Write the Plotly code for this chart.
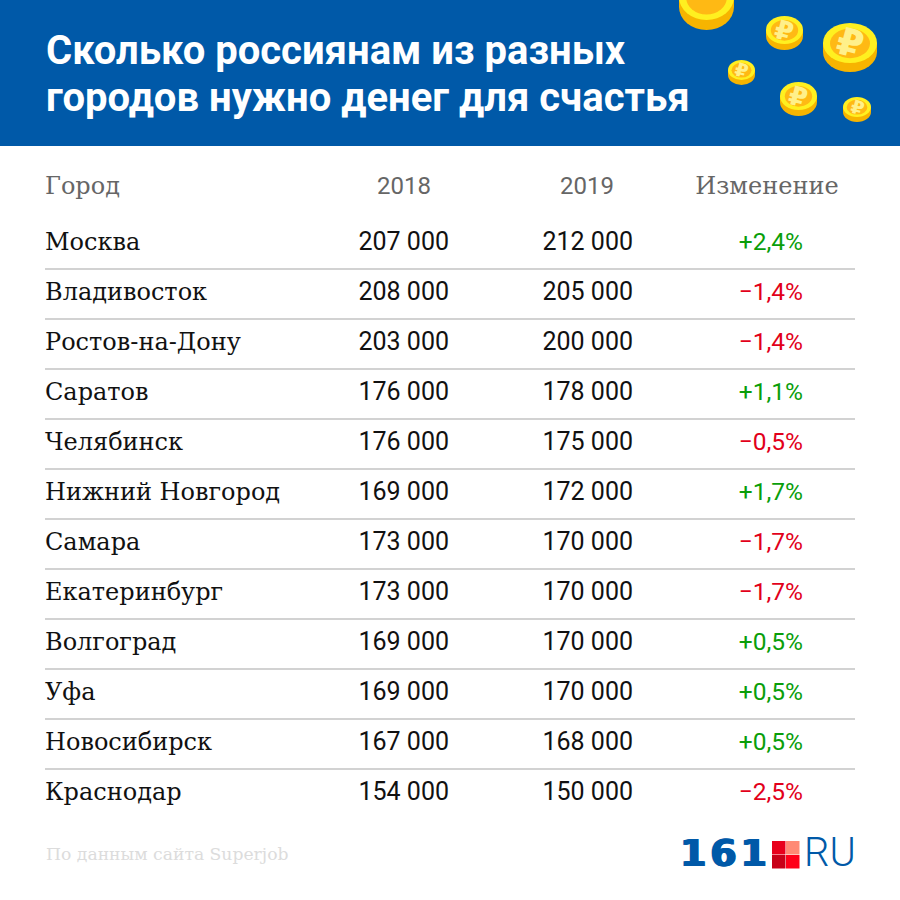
import plotly.graph_objects as go

title_lines = ["Сколько россиянам из разных", "городов нужно денег для счастья"]
headers = ["Город", "2018", "2019", "Изменение"]
cities = ["Москва", "Владивосток", "Ростов-на-Дону", "Саратов", "Челябинск", "Нижний Новгород",
          "Самара", "Екатеринбург", "Волгоград", "Уфа", "Новосибирск", "Краснодар"]
values_2018 = ["207 000", "208 000", "203 000", "176 000", "176 000", "169 000",
               "173 000", "173 000", "169 000", "169 000", "167 000", "154 000"]
values_2019 = ["212 000", "205 000", "200 000", "178 000", "175 000", "172 000",
               "170 000", "170 000", "170 000", "170 000", "168 000", "150 000"]
changes = ["+2,4%", "−1,4%", "−1,4%", "+1,1%", "−0,5%", "+1,7%",
           "−1,7%", "−1,7%", "+0,5%", "+0,5%", "+0,5%", "−2,5%"]
source = "По данным сайта Superjob"

BLUE = "#0059a8"
GREEN = "#0a9e0a"
RED = "#e2001a"
SLAB = "DejaVu Serif"
NUM = "Roboto"

row_y = [244.2 + 50 * i for i in range(len(cities))]
change_colors = [GREEN if c.startswith("+") else RED for c in changes]

fig = go.Figure()


def add_col(x, y, text, pos, size, color, family=NUM, weight=None, shadow=None):
    fig.add_trace(go.Scatter(
        x=x, y=y, text=text, mode="text", textposition=pos, cliponaxis=False,
        textfont=dict(size=size, color=color, family=family, weight=weight, shadow=shadow),
        hoverinfo="skip",
    ))


n = len(cities)
add_col([45] * n, row_y, cities, "middle right", 24, "#111111", SLAB)
add_col([449] * n, row_y, values_2018, "middle left", 25, "#111111")
add_col([633] * n, row_y, values_2019, "middle left", 25, "#111111")
add_col([803] * n, row_y, changes, "middle left", 24.5, change_colors)

# заголовки колонок
add_col([45], [187.5], headers[:1], "middle right", 24, "#666666", SLAB)
add_col([404, 587], [187.5, 187.5], headers[1:3], "middle center", 24, "#666666")
add_col([767], [187.5], headers[3:], "middle center", 24, "#666666", SLAB)

add_col([46, 46], [53.5, 100.5], title_lines, "middle right", 40, "white", NUM, 700)
add_col([46], [856], [source], "middle right", 17.2, "#dcdcdc", SLAB)

# логотип
add_col([680], [856], ["1\u200a6\u200a1"], "middle right", 38, BLUE, "DejaVu Sans", 700,
        "1px 0 0 #0059a8, -1px 0 0 #0059a8")
add_col([804], [856], ["RU"], "middle right", 40, BLUE, NUM, 300)

shapes = [dict(type="rect", x0=0, x1=900, y0=0, y1=146, fillcolor=BLUE, line_width=0, layer="below")]

# линии между строками
for y in row_y[:-1]:
    shapes.append(dict(type="line", x0=45, x1=855, y0=y + 24.8, y1=y + 24.8,
                       line=dict(color="#d2d2d2", width=2), layer="below"))

logo_squares = [(772, 841, "#e8001c"), (786, 841, "#ff8a75"), (772, 855, "#c80018"), (786, 855, "#ff0019")]
for x, y, col in logo_squares:
    shapes.append(dict(type="rect", x0=x, x1=x + 13.5, y0=y, y1=y + 13.5, fillcolor=col, line_width=0))

# монеты: x0, x1, верх лицевой стороны, низ лицевой стороны, низ монеты
coins = [(679, 734, -26, 20, 30), (766, 803, 16, 44, 50), (823, 877, 23, 63, 72),
         (728, 755, 60, 80, 85), (780, 817, 82, 110, 116), (843, 871, 97, 117, 122)]
annotations = []
for x0, x1, top, face, bottom in coins:
    w = x1 - x0
    h = face - top
    shapes.append(dict(type="rect", x0=x0, x1=x1, y0=top + h / 2, y1=bottom - h / 2,
                       fillcolor="#f7b400", line_width=0))
    shapes.append(dict(type="circle", x0=x0, x1=x1, y0=bottom - h, y1=bottom,
                       fillcolor="#f7b400", line_width=0))
    shapes.append(dict(type="circle", x0=x0, x1=x1, y0=top, y1=face,
                       fillcolor="#fff020", line_width=0))
    shapes.append(dict(type="circle", x0=x0 + w * 0.13, x1=x1 - w * 0.13, y0=top + h * 0.14, y1=face - h * 0.12,
                       fillcolor="#ffb914", line_width=0))
    annotations.append(dict(x=(x0 + x1) / 2, y=(top + face) / 2, text="₽", showarrow=False,
                            textangle=15, font=dict(size=h * 0.95, color="#fff08a", family="DejaVu Sans", weight=700)))

fig.update_layout(
    width=900, height=900,
    margin=dict(l=0, r=0, t=0, b=0),
    paper_bgcolor="white", plot_bgcolor="white",
    showlegend=False,
    xaxis=dict(range=[0, 900], visible=False, fixedrange=True),
    yaxis=dict(range=[900, 0], visible=False, fixedrange=True),
    shapes=shapes,
    annotations=annotations,
)

# убираем отступ body, иначе картинка сдвигается на 8px
fig.write_html("out.html", config=dict(displayModeBar=False),
               post_script="document.body.style.margin='0';document.body.style.overflow='hidden';")
